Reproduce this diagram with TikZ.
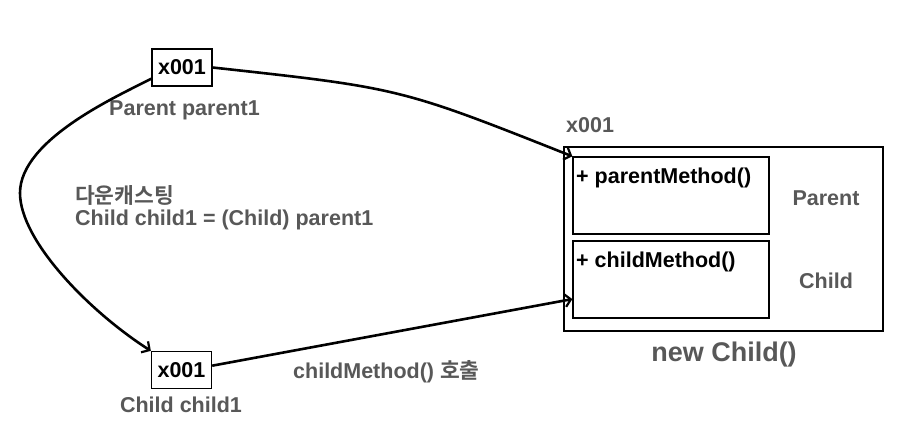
\documentclass[tikz,border=0pt]{standalone}
\usepackage{fontspec}
\setmainfont{Liberation Sans}
\newfontfamily\kr{Noto Sans CJK KR}[BoldFont={* Bold}]
\usetikzlibrary{arrows.meta,calc}
\definecolor{txtgray}{RGB}{88,88,88}
\tikzset{
  refbox/.style={draw=black, line width=1.3pt, fill=white, minimum width=60pt, minimum height=37pt, inner sep=0pt, font=\fontsize{21.5}{25}\selectfont\bfseries},
  lbl/.style={text=txtgray, inner sep=0pt, font=\fontsize{21.5}{25}\selectfont\bfseries},
  mth/.style={text=black, inner sep=0pt, font=\fontsize{21.5}{25}\selectfont\bfseries},
  frame/.style={draw=black, line width=1.3pt},
  conn/.style={line width=2.6pt, -{Straight Barb[length=6pt,width=13pt,line width=2.2pt]}}
}
\begin{document}
\begin{tikzpicture}[x=1pt,y=-1pt]
\useasboundingbox (0,0) rectangle (911,424);
% reference boxes
\node[refbox] (p1) at (182,67.5) {x001};
\node[lbl] (p1l) at (184.5,110) {Parent parent1};
\node[refbox] (c1) at (181.5,370) {x001};
\node[lbl] (c1l) at (181,405) {Child child1};
% object
\node[frame, minimum width=319pt, minimum height=184pt, inner sep=0pt] (obj) at (723.5,239) {};
\node[frame, minimum width=196pt, minimum height=77pt, inner sep=0pt] (pbox) at (671,195.5) {};
\node[frame, minimum width=196pt, minimum height=77pt, inner sep=0pt] (cbox) at (671,279.5) {};
\node[lbl, anchor=west] (objl) at (566,125) {x001};
\node[mth, anchor=west] (pm) at (576,178) {+ parentMethod()};
\node[mth, anchor=west] (cm) at (576,262) {+ childMethod()};
\node[lbl] (pl) at (826,198) {Parent};
\node[lbl] (cl) at (826,281) {Child};
\node[lbl, font=\fontsize{27}{32}\selectfont\bfseries] (newc) at (724,355) {new Child()};
% texts
\node[lbl, anchor=west] (dc1) at (75,195) {\kr\bfseries 다운캐스팅};
\node[lbl, anchor=west] (dc2) at (75,220) {Child child1 = (Child) parent1};
\node[lbl, anchor=west] (call) at (293,372) {childMethod() {\kr\bfseries 호출}};
% connectors
\coordinate (cin) at ($(cbox.south west)!0.25!(cbox.north west)$);
\coordinate (leftmost) at (20,193);
\draw[conn] (p1.east) .. controls (400,88) .. (pbox.north west);
\draw[conn] (p1.200) .. controls (120,95) and (20,139) .. (leftmost) .. controls (20,241) and (90,312) .. (c1.north west);
\draw[conn] (c1.8) -- (cin);
\end{tikzpicture}
\end{document}
